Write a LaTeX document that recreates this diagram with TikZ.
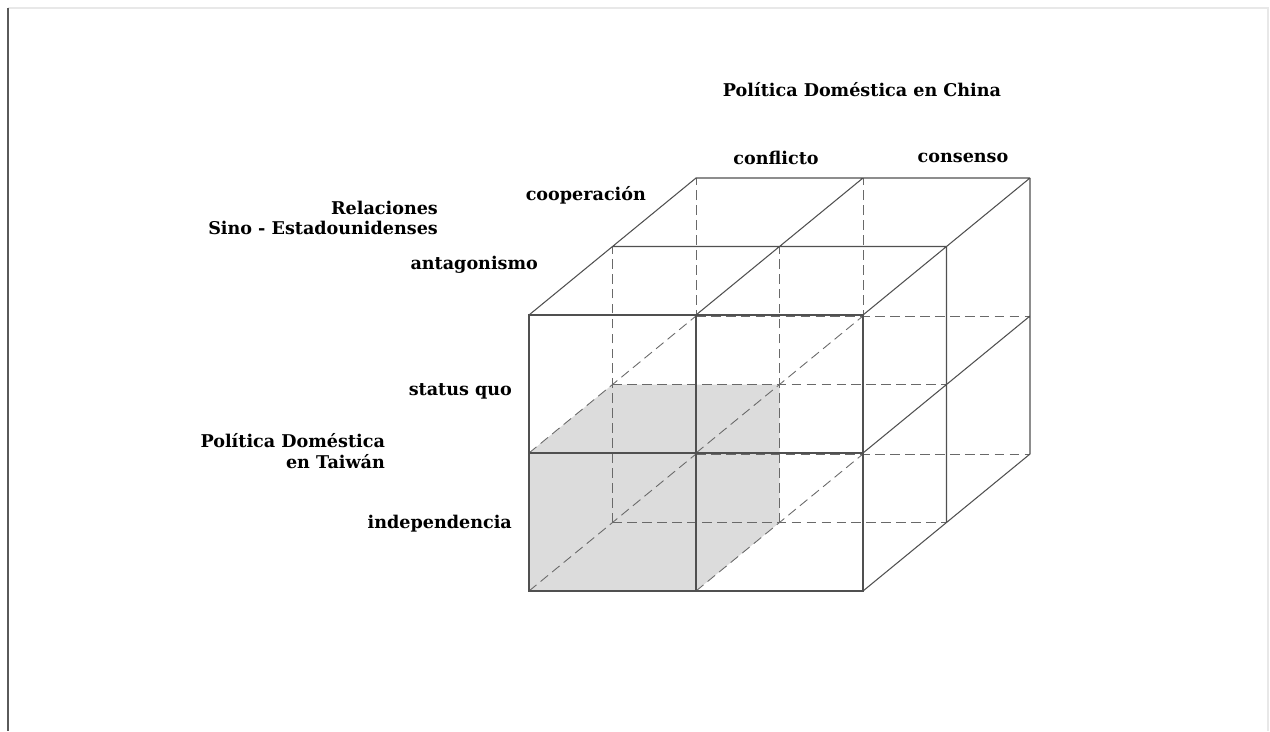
\documentclass[tikz,border=0pt]{standalone}
\usepackage{fontspec}
\setmainfont{DejaVu Serif}
\usetikzlibrary{positioning}
\definecolor{cubeline}{RGB}{80,80,80}
\definecolor{cubehidden}{RGB}{105,105,105}
\definecolor{cubeshade}{RGB}{220,220,220}
\definecolor{pageedge}{RGB}{90,90,90}
\definecolor{pagefaint}{RGB}{232,232,232}

\begin{document}
\begin{tikzpicture}[
        x={(3.34cm,0cm)},
        y={(0cm,2.76cm)},
        z={(1.67cm,1.37cm)},
        edge/.style={
            draw=cubeline,
            line width=0.6pt
        },
        hidden/.style={
            draw=cubehidden,
            line width=0.5pt,
            dash pattern=on 5.5pt off 3pt
        },
        lbl/.style={
            font=\bfseries\fontsize{10}{11.5}\selectfont,
            inner sep=1pt
        },
        axis/.style={
            lbl,
            align=right
        }
    ]

    \useasboundingbox (-10.58cm,-2.8cm) rectangle (14.82cm,11.82cm);

    % page edges
    \draw[pagefaint, line width=0.6pt] (-10.42cm,11.66cm) -- (14.78cm,11.66cm) -- (14.78cm,-2.8cm);
    \draw[pageedge, line width=0.8pt] (-10.42cm,11.66cm) -- (-10.42cm,-2.8cm);

    % shaded block
    \fill[cubeshade] (0,0,0) -- (0,1,0) -- (0,1,1) -- (1,1,1) -- (1,0,1) -- (1,0,0) -- cycle;

    % hidden lines
    \draw[hidden] (0,0,1) -- (2,0,1) (0,1,1) -- (2,1,1) (0,0,2) -- (2,0,2) (0,1,2) -- (2,1,2);
    \draw[hidden] (0,0,1) -- (0,2,1) (1,0,1) -- (1,2,1) (0,0,2) -- (0,2,2) (1,0,2) -- (1,2,2);
    \draw[hidden] (0,0,0) -- (0,0,2) (0,1,0) -- (0,1,2) (1,0,0) -- (1,0,2) (1,1,0) -- (1,1,2);

    % visible faces
    \draw[edge] (0,0,0) rectangle (2,2,0) (1,0,0) -- (1,2,0) (0,1,0) -- (2,1,0);
    \draw[edge] (0,2,0) -- (0,2,2) -- (2,2,2) (1,2,0) -- (1,2,2) (2,2,0) -- (2,2,2) (0,2,1) -- (2,2,1);
    \draw[edge] (2,2,2) -- (2,0,2) -- (2,0,0) (2,1,0) -- (2,1,2) (2,0,1) -- (2,2,1);

    % labels
    \node[lbl] (china) at (6.66cm,10.02cm) {Política Doméstica en China};
    \node[lbl] (conflicto) at (4.94cm,8.66cm) {conflicto};
    \node[lbl] (consenso) at (8.68cm,8.66cm) {consenso};

    \node[lbl, anchor=east] (cooperacion) at (2.38cm,7.92cm) {cooperación};
    \node[lbl, anchor=east] (antagonismo) at (0.22cm,6.52cm) {antagonismo};
    \node[axis, anchor=east] (relaciones) at (-1.78cm,7.46cm) {Relaciones\\Sino - Estadounidenses};

    \node[lbl, anchor=east] (statusquo) at (-0.30cm,4.0cm) {status quo};
    \node[axis, anchor=east] (taiwan) at (-2.84cm,2.8cm) {Política Doméstica\\en Taiwán};
    \node[lbl, anchor=east] (independencia) at (-0.30cm,1.34cm) {independencia};

\end{tikzpicture}
\end{document}
